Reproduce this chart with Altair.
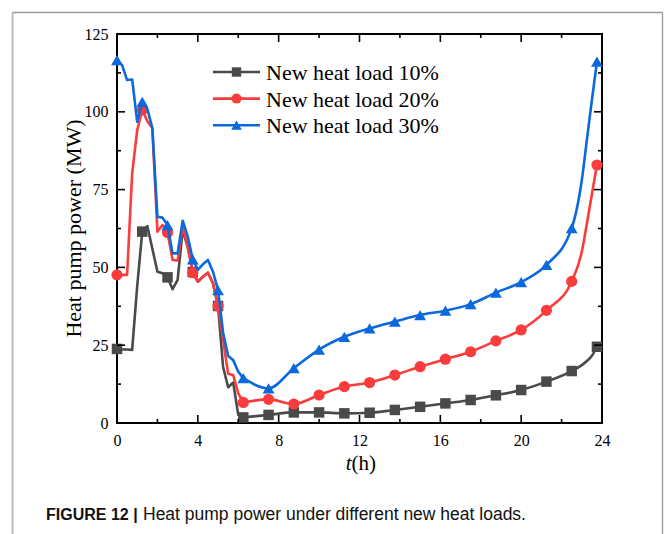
import altair as alt
import pandas as pd

# Time of day (h): 15-min steps through the morning transient, then every 1.25 h
HOURS = [0.0, 0.25, 0.5, 0.75, 1.0, 1.25, 1.5, 1.75, 2.0, 2.25, 2.5, 2.75, 3.0,
         3.25, 3.5, 3.75, 4.0, 4.25, 4.5, 4.75, 5.0, 5.25, 5.5, 5.75, 6.0, 6.25,
         7.5, 8.75, 10.0, 11.25, 12.5, 13.75, 15.0, 16.25, 17.5, 18.75, 20.0,
         21.25, 22.5, 23.0, 23.25, 23.5, 23.75]

# Heat pump power (MW) for each new-heat-load case
LOAD_10 = [23.8, 23.6, 23.6, 23.5, 44.0, 61.5, 63.3, 56.0, 48.6, 48.1, 46.8, 43.0, 46.0,
           62.0, 56.5, 48.5, 45.4, 47.0, 48.3, 44.9, 37.6, 18.0, 11.5, 13.0, 2.6, 1.8,
           2.6, 3.4, 3.4, 3.1, 3.3, 4.2, 5.2, 6.3, 7.4, 8.9, 10.6,
           13.3, 16.7, 18.6, 19.9, 21.6, 24.5]
LOAD_20 = [47.6, 47.6, 47.6, 80.2, 94.1, 100.6, 97.0, 94.7, 61.5, 63.6, 61.2, 52.4, 52.2,
           63.1, 56.7, 48.3, 45.4, 47.0, 48.3, 44.9, 37.6, 26.7, 15.8, 15.4, 9.5, 6.6,
           7.6, 6.1, 9.0, 11.7, 13.0, 15.4, 18.1, 20.5, 22.9, 26.4, 29.9,
           36.2, 45.5, 55.0, 64.0, 73.5, 82.9]
LOAD_30 = [116.6, 115.0, 110.2, 110.4, 96.8, 103.2, 101.0, 94.7, 66.3, 66.0, 63.6, 54.5, 54.5,
           65.0, 59.9, 52.6, 49.2, 51.0, 52.4, 48.6, 42.7, 29.0, 21.5, 20.2, 16.5, 14.4,
           11.1, 17.6, 23.6, 27.7, 30.4, 32.6, 34.7, 36.1, 38.2, 41.9, 45.3,
           50.8, 62.6, 78.0, 90.9, 103.8, 116.1]

# Hours at which a symbol is drawn on each curve
MARKER_HOURS = [0.0, 1.25, 2.5, 3.75, 5.0, 6.25, 7.5, 8.75, 10.0, 11.25, 12.5, 13.75,
                15.0, 16.25, 17.5, 18.75, 20.0, 21.25, 22.5, 23.75]

# Morning part is drawn as straight segments, the rest as a smooth curve
SMOOTH_FROM = 6.25

SERIES = ["New heat load 10%", "New heat load 20%", "New heat load 30%"]
COLORS = ["#4a4a4a", "#fb3c3c", "#0b69dc"]
SHAPES = ["square", "circle", "triangle-up"]
SIZES = [110, 125, 140]

X_MAJOR = [0, 4, 8, 12, 16, 20, 24]
X_MINOR = [2, 6, 10, 14, 18, 22]
Y_MAJOR = [0, 25, 50, 75, 100, 125]
Y_MINOR = [12.5, 37.5, 62.5, 87.5, 112.5]

CAPTION_BOLD = "FIGURE 12 |"
CAPTION_TEXT = "Heat pump power under different new heat loads."
Y_TITLE = "Heat pump power (MW)"

W, H = 485, 389
SERIF = "Liberation Serif"
SANS = "Liberation Sans"

x_scale = alt.Scale(domain=[0, 24], nice=False, zero=False)
y_scale = alt.Scale(domain=[0, 125], nice=False)

# One shared axis definition per channel, used by every layer so they merge cleanly
x_axis = alt.Axis(values=X_MAJOR, ticks=False, domain=False, grid=False, title=None,
                  labelFont=SERIF, labelFontSize=16, labelColor="black",
                  labelPadding=9, labelFlush=False)
y_axis = alt.Axis(values=Y_MAJOR, ticks=False, domain=False, grid=False, title=None,
                  labelFont=SERIF, labelFontSize=16, labelColor="black",
                  labelPadding=9, labelFlush=False)

frames = []
for name, vals in zip(SERIES, [LOAD_10, LOAD_20, LOAD_30]):
    frames.append(pd.DataFrame({"hour": HOURS, "power": vals, "series": name}))
data = pd.concat(frames, ignore_index=True)
markers = data[data["hour"].isin(MARKER_HOURS)]
early = data[data["hour"] <= SMOOTH_FROM]
late = data[data["hour"] >= SMOOTH_FROM]

X = alt.X("hour:Q", scale=x_scale, axis=x_axis)
Y = alt.Y("power:Q", scale=y_scale, axis=y_axis)

layers = []
for name, color, shape, size in zip(SERIES, COLORS, SHAPES, SIZES):
    seg = alt.Chart(early).transform_filter(alt.datum.series == name).mark_line(
        interpolate="linear", strokeWidth=2.6, color=color, strokeJoin="round"
    ).encode(x=X, y=Y)
    curve = alt.Chart(late).transform_filter(alt.datum.series == name).mark_line(
        interpolate="monotone", strokeWidth=2.6, color=color
    ).encode(x=X, y=Y)
    pts = alt.Chart(markers).transform_filter(alt.datum.series == name).mark_point(
        shape=shape, size=size, filled=True, opacity=1, color=color, strokeWidth=0
    ).encode(x=X, y=Y)
    layers += [seg, curve, pts]


# Inward-pointing ticks on all four sides of the frame
def x_ticks(values, length):
    df = pd.DataFrame({"hour": values})
    bottom = alt.Chart(df).mark_rule(color="black", strokeWidth=1.6).encode(
        x=X, y=alt.value(H), y2=alt.value(H - length))
    top = alt.Chart(df).mark_rule(color="black", strokeWidth=1.6).encode(
        x=X, y=alt.value(0), y2=alt.value(length))
    return [bottom, top]


def y_ticks(values, length):
    df = pd.DataFrame({"power": values})
    left = alt.Chart(df).mark_rule(color="black", strokeWidth=1.6).encode(
        y=Y, x=alt.value(0), x2=alt.value(length))
    right = alt.Chart(df).mark_rule(color="black", strokeWidth=1.6).encode(
        y=Y, x=alt.value(W), x2=alt.value(W - length))
    return [left, right]


ticks = x_ticks(X_MAJOR, 8) + x_ticks(X_MINOR, 4) + y_ticks(Y_MAJOR, 8) + y_ticks(Y_MINOR, 4)

one = pd.DataFrame({"k": [0]})

# Legend: sample line, symbol and label per series
legend = []
for i, (name, color, shape, size) in enumerate(zip(SERIES, COLORS, SHAPES, SIZES)):
    yy = 38 + i * 26.6
    legend.append(alt.Chart(one).mark_rule(color=color, strokeWidth=2.6).encode(
        x=alt.value(96), x2=alt.value(143), y=alt.value(yy)))
    legend.append(alt.Chart(one).mark_point(
        shape=shape, size=size * 0.8, filled=True, opacity=1, color=color, strokeWidth=0
    ).encode(x=alt.value(119.5), y=alt.value(yy)))
    legend.append(alt.Chart(one).mark_text(
        text=name, font=SERIF, fontSize=22, align="left", baseline="middle", color="black"
    ).encode(x=alt.value(149), y=alt.value(yy + 1)))

# Axis titles
titles = [
    alt.Chart(one).mark_text(text=Y_TITLE, font=SERIF, fontSize=22, angle=270,
                             align="center", baseline="middle", color="black"
                             ).encode(x=alt.value(-43), y=alt.value(H / 2)),
    alt.Chart(one).mark_text(text="t", font=SERIF, fontSize=21, fontStyle="italic",
                             align="right", baseline="alphabetic", color="black"
                             ).encode(x=alt.value(W / 2 - 8), y=alt.value(H + 47)),
    alt.Chart(one).mark_text(text="(h)", font=SERIF, fontSize=21,
                             align="left", baseline="alphabetic", color="black"
                             ).encode(x=alt.value(W / 2 - 8), y=alt.value(H + 47)),
]

# Outer figure border and caption
border = [
    alt.Chart(one).mark_rule(color="#9a9a9a", strokeWidth=1.3).encode(
        x=alt.value(-104.5), x2=alt.value(545.5), y=alt.value(-21.5)),
    alt.Chart(one).mark_rule(color="#b8b8b8", strokeWidth=1.8).encode(
        x=alt.value(-104.5), y=alt.value(-21.5), y2=alt.value(510)),
    alt.Chart(one).mark_rule(color="#9a9a9a", strokeWidth=1.3).encode(
        x=alt.value(545.5), y=alt.value(-21.5), y2=alt.value(510)),
]
caption = [
    alt.Chart(one).mark_text(text=CAPTION_BOLD, font=SANS, fontSize=16, fontWeight="bold",
                             align="left", baseline="middle", color="#111111"
                             ).encode(x=alt.value(-71), y=alt.value(481)),
    alt.Chart(one).mark_text(text=CAPTION_TEXT, font=SANS, fontSize=17.5,
                             align="left", baseline="middle", color="#111111"
                             ).encode(x=alt.value(26), y=alt.value(481)),
]

chart = alt.layer(*(layers + ticks + legend + titles + border + caption)).properties(
    width=W, height=H,
    padding={"left": 117, "top": 34, "right": 63, "bottom": 111},
    autosize=alt.AutoSizeParams(type="none"),
    background="white",
).configure_view(stroke="black", strokeWidth=2)

chart.save("out.html", embed_options={"renderer": "svg", "actions": False})
